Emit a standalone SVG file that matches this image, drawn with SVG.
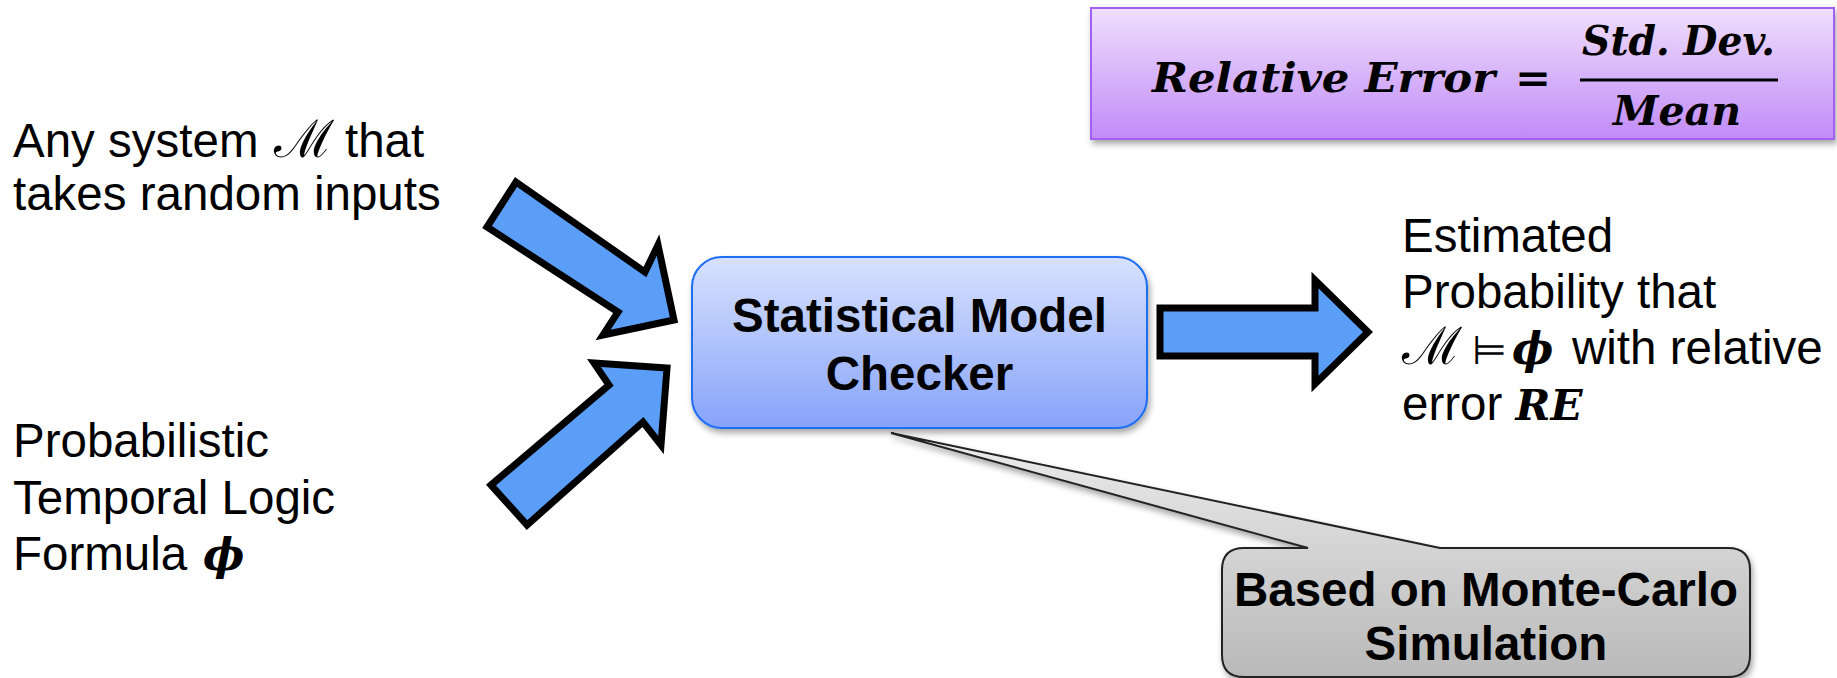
<svg xmlns="http://www.w3.org/2000/svg" width="1837" height="678" viewBox="0 0 1837 678">
<defs>
<linearGradient id="gPurple" x1="0" y1="0" x2="0" y2="1">
<stop offset="0" stop-color="#efdffc"/>
<stop offset="1" stop-color="#c18bf8"/>
</linearGradient>
<linearGradient id="gBlue" x1="0" y1="0" x2="0" y2="1">
<stop offset="0" stop-color="#d8e2fd"/>
<stop offset="1" stop-color="#87a3fa"/>
</linearGradient>
<linearGradient id="gGrey" x1="0" y1="0" x2="0" y2="1">
<stop offset="0" stop-color="#ececec"/>
<stop offset="1" stop-color="#b9b9b9"/>
</linearGradient>
<filter id="shadow" x="-10%" y="-10%" width="120%" height="130%">
<feDropShadow dx="2" dy="4" stdDeviation="3" flood-color="#000" flood-opacity="0.35"/>
</filter>
<style>
.t{font-family:"Liberation Sans",Arial,sans-serif;font-size:47.5px;fill:#000}
.b{font-weight:bold}
.m{font-family:"DejaVu Serif",serif;font-style:italic;font-weight:bold;fill:#000}
.scr{font-family:"DejaVu Serif",serif;font-style:normal;font-size:52px;fill:#000}
.sym{font-family:"DejaVu Sans",sans-serif;font-size:40px;fill:#000}
.arrow{fill:#5a9ef8;stroke:#000;stroke-width:7;stroke-linejoin:miter}
</style>
</defs>

<g id="formula-box">
<rect x="1091" y="8" width="743" height="131" fill="url(#gPurple)" stroke="#a35ef2" stroke-width="2" filter="url(#shadow)"/>
<text class="m" x="1152" y="92" font-size="41" textLength="343" lengthAdjust="spacingAndGlyphs">Relative Error</text>
<text class="m" x="1515" y="92" font-size="41" font-style="normal" textLength="36" lengthAdjust="spacingAndGlyphs">=</text>
<text class="m" x="1582" y="55" font-size="41" textLength="193" lengthAdjust="spacingAndGlyphs">Std. Dev.</text>
<line x1="1580" y1="80" x2="1778" y2="80" stroke="#000" stroke-width="3"/>
<text class="m" x="1613" y="125" font-size="41" textLength="128" lengthAdjust="spacingAndGlyphs">Mean</text>
</g>

<g id="input-system">
<text class="t" x="13" y="157">Any system <tspan class="scr" x="274">ℳ</tspan><tspan x="345">that</tspan></text>
<text class="t" x="13" y="210">takes random inputs</text>
</g>

<g id="input-formula">
<text class="t" x="13" y="457">Probabilistic</text>
<text class="t" x="13" y="514">Temporal Logic</text>
<text class="t" x="13" y="570">Formula <tspan class="m" font-size="44" x="203">ϕ</tspan></text>
</g>

<g id="checker">
<rect x="692" y="257" width="455" height="171" rx="30" ry="30" fill="url(#gBlue)" stroke="#1f6ef2" stroke-width="2" filter="url(#shadow)"/>
<text class="t b" x="919.5" y="332" text-anchor="middle">Statistical Model</text>
<text class="t b" x="919.5" y="390" text-anchor="middle">Checker</text>
</g>

<g id="output">
<text class="t" x="1402" y="252">Estimated</text>
<text class="t" x="1402" y="308">Probability that</text>
<text class="t" x="1402" y="364"><tspan class="scr" x="1402">ℳ</tspan><tspan class="sym" x="1472">⊨</tspan><tspan class="m" font-size="44" x="1512">ϕ</tspan><tspan x="1572">with relative</tspan></text>
<text class="t" x="1402" y="420">error <tspan class="m" font-size="42">RE</tspan></text>
</g>

<g id="callout">
<path d="M1244,548 L1308,548 L891,433 L1440,548 L1728,548 Q1750,548 1750,570 L1750,655 Q1750,677 1728,677 L1244,677 Q1222,677 1222,655 L1222,570 Q1222,548 1244,548 Z" fill="url(#gGrey)" stroke="#222" stroke-width="2" stroke-linejoin="miter" filter="url(#shadow)"/>
<text class="t b" x="1486" y="606" text-anchor="middle">Based on Monte-Carlo</text>
<text class="t b" x="1486" y="660" text-anchor="middle">Simulation</text>
</g>

<g id="connectors">
<polygon class="arrow" points="516,182 645,272 658,245 674,320 603,335 618,312 487,227"/>
<polygon class="arrow" points="491,485 609,385 594,363 667,368 661,445 643,422 527,525"/>
<polygon class="arrow" points="1160,308 1315,308 1315,280 1368,332 1315,384 1315,356 1160,356"/>
</g>
</svg>
